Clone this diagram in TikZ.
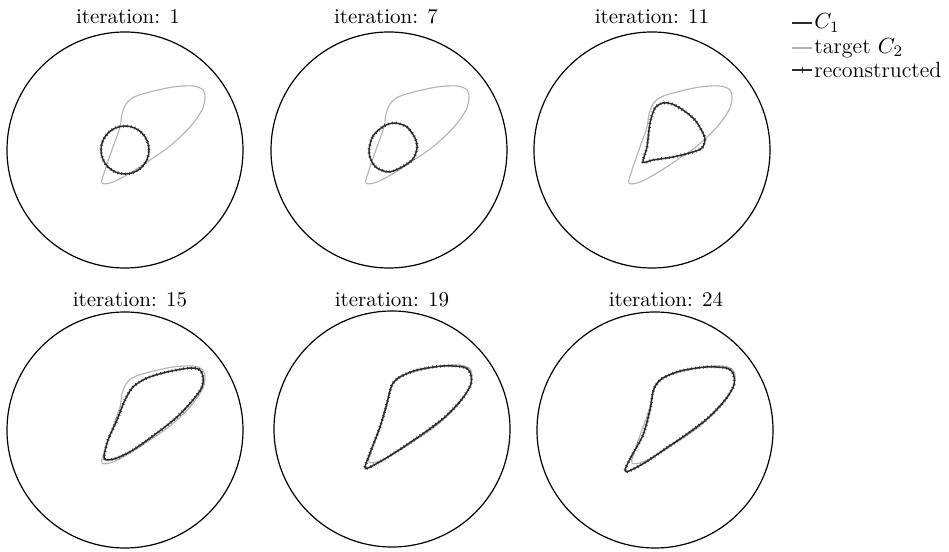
\documentclass[tikz,border=0pt]{standalone}
\usetikzlibrary{positioning}
\definecolor{TargetGray}{RGB}{178,178,178}
\definecolor{RecDark}{RGB}{45,45,45}

\begin{document}
\begin{tikzpicture}[x=0.5pt,y=0.5pt,
  rim/.style={black,line width=0.6pt},
  tgt/.style={TargetGray,line width=0.55pt},
  rec/.style={RecDark,line width=0.75pt,
              postaction={draw=RecDark,line width=1.5pt,dash pattern=on 0.35pt off 1.6pt}},
  ttl/.style={font=\fontsize{10.5}{12}\selectfont,inner sep=0pt},
  lgd/.style={font=\fontsize{11}{13}\selectfont,inner sep=0pt,anchor=west},
  target/.pic={\draw[tgt] plot[smooth cycle,tension=0.55] coordinates {
    (-23,-33) (-20,-20) (-12,3) (-5,23) (-3,36) (1,46) (9,53) (25,58) (48,63)
    (68,64) (78,60) (80,52) (77,40) (65,23) (45,4) (25,-10) (5,-23) (-12,-32)};},
]
\useasboundingbox (0,0) rectangle (949,552);
\foreach \n/\cx/\cy/\tx/\ty/\k in {1/125/402/128/535/1,2/389/402/386/535/7,3/652/402/652/535/11,
                                   4/125/122/130/252/15,5/392/123/392/252/19,6/655/122/666/252/24}{
  \draw[rim] (\cx,\cy) circle (118);
  \pic at (\cx,\cy) {target};
  \node[ttl] (t\n) at (\tx,\ty) {iteration: \k};
}
\draw[rec] (125,402) circle (24);
\draw[rec,shift={(389,402)}] plot[smooth cycle] coordinates {
  (-20,0) (-16,14) (-5,24) (6,27) (18,23) (26,12) (28,2) (24,-9) (13,-17) (0,-22) (-12,-18) (-18,-10)};
\draw[rec,shift={(652,402)}] plot[smooth cycle,tension=0.5] coordinates {
  (-9,-12) (-5,3) (-2,27) (3,42) (11,47) (20,46) (31,40) (43,30) (51,17) (53,10)
  (50,2) (41,-2) (21,-7) (1,-10)};
\draw[rec,shift={(125,122)}] plot[smooth cycle] coordinates {
  (-21,-27) (-17,-10) (-8,10) (0,30) (8,43) (22,52) (42,58) (65,62) (75,60) (78,53)
  (77,43) (68,30) (52,13) (32,-3) (8,-20) (-8,-28) (-18,-30)};
\draw[rec,shift={(392,123)}] plot[smooth cycle,tension=0.5] coordinates {
  (-27,-38) (-22,-24) (-12,2) (-5,26) (0,44) (8,52) (25,59) (51,63) (71,62) (78,57)
  (79,45) (70,30) (53,12) (32,-4) (10,-19) (-9,-31) (-24,-39)};
\draw[rec,shift={(655,122)}] plot[smooth cycle,tension=0.5] coordinates {
  (-30,-40) (-24,-27) (-12,-5) (-5,20) (-2,38) (1,45) (8,52) (25,59) (51,63) (71,62)
  (78,57) (79,45) (70,30) (53,12) (32,-4) (10,-19) (-9,-32) (-26,-41)};
\coordinate (l1) at (792,529);
\coordinate (l2) at (792,504);
\coordinate (l3) at (792,482);
\node[lgd] (c1) at (814,529) {$C_1$};
\node[lgd] (c2) at (814,504) {target $C_2$};
\node[lgd] (c3) at (814,482) {reconstructed};
\draw[RecDark,line width=0.6pt] (l1) -- ([xshift=-1pt]c1.west);
\draw[tgt] (l2) -- ([xshift=-1pt]c2.west);
\draw[RecDark,line width=0.6pt] (l3) -- ([xshift=-1pt]c3.west);
\draw[RecDark,line width=0.5pt] ([xshift=5pt]l3) ++(0,-3) -- ++(0,6);
\end{tikzpicture}
\end{document}
